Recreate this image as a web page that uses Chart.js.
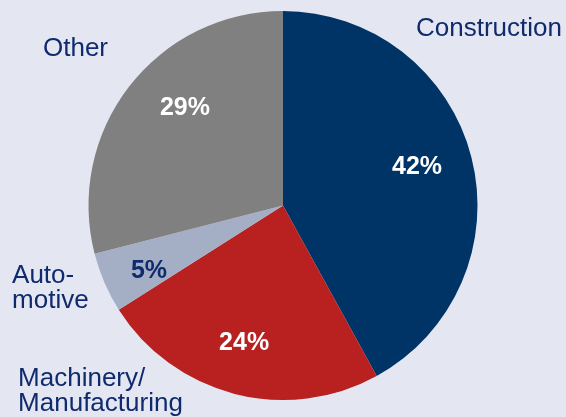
<!DOCTYPE html>
<html>
<head>
<meta charset="utf-8">
<script src="https://cdn.jsdelivr.net/npm/chart.js@4/dist/chart.umd.min.js"></script>
<style>
  html, body { margin: 0; padding: 0; background: #e4e7f1; }
  #wrap { width: 566px; height: 417px; }
</style>
</head>
<body>
<div id="wrap"><canvas id="myChartPie"></canvas></div>
<script>
// data
const categories = ['Construction', 'Machinery/Manufacturing', 'Automotive', 'Other'];
const shares = [42, 24, 5, 29];
// how the names are broken over lines
const nameLines = [['Construction'], ['Machinery/', 'Manufacturing'], ['Auto-', 'motive'], ['Other']];

const sliceColors = ['#003366', '#b92020', '#a4afc6', '#808080'];
const pctColors = ['#ffffff', '#ffffff', '#0f2b6e', '#ffffff'];
const textNavy = '#0f2b6e';

// label spots, in units of the pie radius from its centre
const pctSpots = [[0.689, -0.198], [-0.200, 0.707], [-0.689, 0.337], [-0.504, -0.500]];
const nameSpots = [[0.684, -0.906], [-1.362, 0.892], [-1.393, 0.362], [-1.234, -0.808]];

const labelPlugin = {
    id: 'sliceLabels',
    afterDatasetsDraw(chart) {
        const ctx = chart.ctx;
        const arc = chart.getDatasetMeta(0).data[0];
        const cx = arc.x, cy = arc.y, r = arc.outerRadius;
        const total = shares.reduce((a, b) => a + b, 0);
        ctx.save();
        ctx.textBaseline = 'middle';
        // percentages inside the slices
        ctx.font = 'bold 25px "Liberation Sans", Arial, sans-serif';
        ctx.textAlign = 'center';
        shares.forEach(function(v, i) {
            ctx.fillStyle = pctColors[i];
            const pct = Math.round(v / total * 100) + '%';
            ctx.fillText(pct, cx + pctSpots[i][0] * r, cy + pctSpots[i][1] * r);
        });
        // category names outside
        ctx.font = '26px "Liberation Sans", Arial, sans-serif';
        ctx.textAlign = 'left';
        ctx.fillStyle = textNavy;
        nameLines.forEach(function(lines, i) {
            const x = cx + nameSpots[i][0] * r;
            const y = cy + nameSpots[i][1] * r;
            lines.forEach(function(line, j) {
                ctx.fillText(line, x, y + j * 25);
            });
        });
        ctx.restore();
    }
};

const ctxPie = document.getElementById('myChartPie').getContext('2d');
const myChartPie = new Chart(ctxPie, {
    type: 'pie',
    data: {
        labels: categories,
        datasets: [{
            data: shares,
            backgroundColor: sliceColors,
            borderWidth: 0
        }]
    },
    options: {
        responsive: true,
        maintainAspectRatio: false,
        animation: false,
        layout: { padding: { top: 11, bottom: 17, left: 0, right: 0 } },
        plugins: {
            legend: { display: false },
            tooltip: { enabled: false }
        }
    },
    plugins: [labelPlugin]
});
</script>
</body>
</html>
